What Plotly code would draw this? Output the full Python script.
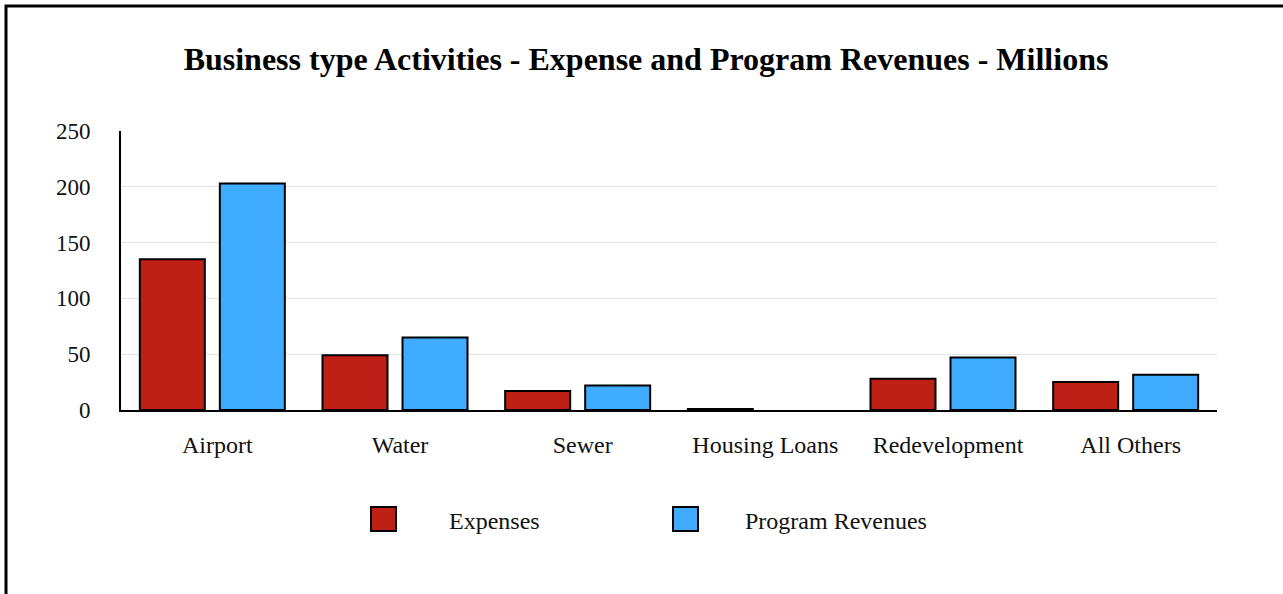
import plotly.graph_objects as go

categories = ["Airport", "Water", "Sewer", "Housing Loans", "Redevelopment", "All Others"]
expenses = [135, 49, 17, 1, 28, 25]
program_revenues = [203, 65, 22, 0, 47, 31.5]
series_names = ["Expenses", "Program Revenues"]
colors = ["#BE2016", "#3FABFF"]

W, H = 1283, 594
L, R, T, B = 121, 1217, 131, 410

fig = go.Figure()
for name, vals, c in zip(series_names, [expenses, program_revenues], colors):
    fig.add_trace(go.Bar(x=categories, y=vals, name=name,
                         marker=dict(color=c, line=dict(color="black",
                                                        width=[2 if v > 0 else 0 for v in vals])),
                         showlegend=False))

def px_to_paper(x, y):
    return (x - L) / (R - L), (B - y) / (B - T)

shapes = []
x0, y0 = px_to_paper(6, 6)
x1, y1 = px_to_paper(1300, 620)
shapes.append(dict(type="rect", xref="paper", yref="paper", x0=x0, y0=y1, x1=x1, y1=y0,
                   line=dict(color="black", width=3), fillcolor="rgba(0,0,0,0)", layer="below"))
annotations = []
legend_pos = [(371, 449), (673, 745)]
for (sx, tx), name, c in zip(legend_pos, series_names, colors):
    a0, b0 = px_to_paper(sx, 531)
    a1, b1 = px_to_paper(sx + 25, 507)
    shapes.append(dict(type="rect", xref="paper", yref="paper", x0=a0, y0=b0, x1=a1, y1=b1,
                       fillcolor=c, line=dict(color="black", width=2)))
    ax, ay = px_to_paper(tx - 2, 521)
    annotations.append(dict(xref="paper", yref="paper", x=ax, y=ay, text=name, showarrow=False,
                            xanchor="left", yanchor="middle",
                            font=dict(family="Liberation Serif", size=24, color="#111")))

fig.update_layout(
    width=W, height=H,
    margin=dict(l=L, r=W - R, t=T, b=H - B, pad=0),
    paper_bgcolor="white", plot_bgcolor="white",
    barmode="group", bargap=0.124, bargroupgap=0.1875,
    title=dict(text="<b>Business type Activities - Expense and Program Revenues - Millions</b>",
               x=646 / W, xref="container", xanchor="center", y=1 - 59 / H, yref="container",
               yanchor="middle",
               font=dict(family="Liberation Serif", size=32, color="black")),
    font=dict(family="Liberation Serif", size=24, color="#111"),
    shapes=shapes, annotations=annotations,
)
fig.update_yaxes(range=[0, 250], dtick=50, showgrid=True, gridcolor="#e3e3e3", gridwidth=1,
                 showline=True, linecolor="black", linewidth=2, ticks="", zeroline=False,
                 ticklabelstandoff=24, tickfont=dict(size=23))
fig.update_xaxes(showline=True, linecolor="black", linewidth=2, ticks="",
                 ticklabelstandoff=12, ticklabelshift=5, tickfont=dict(size=24))

fig.write_html("out.html")
